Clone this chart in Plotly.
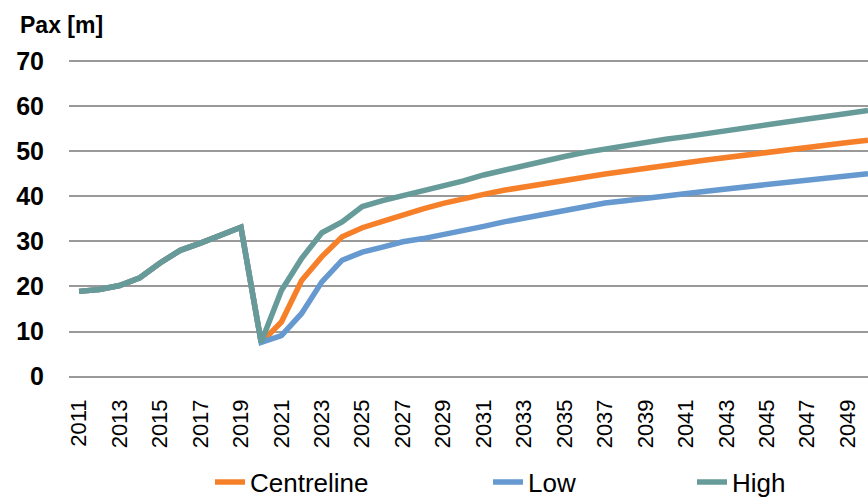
import plotly.graph_objects as go

years = [str(y) for y in range(2011, 2051)]
tick_years = [str(y) for y in range(2011, 2051, 2)]

centreline = [18.9, 19.3, 20.2, 21.9, 25.2, 28.0, 29.6, 31.5, 33.1, 7.6,
              12.1, 21.3, 26.6, 31.0, 33.0, 34.4, 35.9, 37.2, 38.4, 39.5,
              40.4, 41.3, 42.1, 42.8, 43.5, 44.2, 44.9, 45.6, 46.2, 46.8,
              47.4, 48.0, 48.6, 49.2, 49.8, 50.3, 50.9, 51.4, 51.9, 52.4]
low = [18.9, 19.3, 20.2, 21.9, 25.2, 28.0, 29.6, 31.5, 33.1, 7.6,
       9.1, 14.0, 21.0, 25.8, 27.6, 28.7, 29.9, 30.6, 31.4, 32.4,
       33.3, 34.3, 35.2, 36.1, 37.0, 37.8, 38.5, 39.0, 39.6, 40.1,
       40.6, 41.1, 41.6, 42.1, 42.6, 43.1, 43.6, 44.1, 44.5, 45.0]
high = [18.9, 19.3, 20.2, 21.9, 25.2, 28.0, 29.6, 31.5, 33.1, 7.6,
        19.1, 26.2, 31.9, 34.3, 37.7, 39.0, 40.1, 41.1, 42.1, 43.4,
        44.7, 45.8, 46.9, 47.9, 48.8, 49.7, 50.5, 51.2, 51.9, 52.6,
        53.2, 53.9, 54.6, 55.2, 55.9, 56.5, 57.1, 57.7, 58.3, 59.0]

FONT = "Liberation Sans, Arial, sans-serif"

fig = go.Figure()
fig.add_trace(go.Scatter(x=years, y=centreline, name="Centreline", mode="lines",
                         line=dict(color="#F6802A", width=5.5), legend="legend"))
fig.add_trace(go.Scatter(x=years, y=low, name="Low", mode="lines",
                         line=dict(color="#6699CF", width=5.5), legend="legend2"))
fig.add_trace(go.Scatter(x=years, y=high, name="High", mode="lines",
                         line=dict(color="#669B99", width=5.5), legend="legend3"))

LEG_Y = 1 - 482 / 497
leg_common = dict(orientation="h", yanchor="middle", xanchor="left",
                  xref="container", yref="container",
                  font=dict(family=FONT, size=26, color="#000"),
                  bgcolor="rgba(0,0,0,0)", itemwidth=30)

fig.update_layout(
    width=868, height=497,
    showlegend=True,
    margin=dict(l=69, r=0, t=59, b=119, autoexpand=False),
    paper_bgcolor="white", plot_bgcolor="white",
    font=dict(family=FONT, color="#000"),
    xaxis=dict(type="category", range=[-0.5, 39], tickmode="array",
               tickvals=tick_years, ticktext=tick_years, tickangle=-90,
               tickfont=dict(family=FONT, size=22, color="#000"),
               showgrid=False, showline=False, ticks="", ticklabelstandoff=16,
               zeroline=False, automargin=False),
    yaxis=dict(range=[-0.3, 70.4], tickmode="array",
               tickvals=[0, 10, 20, 30, 40, 50, 60, 70], showgrid=True,
               gridcolor="#999999", gridwidth=2, zeroline=False,
               tickfont=dict(family=FONT, size=25, color="#000", weight="bold"),
               ticklabelstandoff=24, showline=False, ticks="", automargin=False),
    legend=dict(x=210 / 868, y=LEG_Y, **leg_common),
    legend2=dict(x=488 / 868, y=LEG_Y, **leg_common),
    legend3=dict(x=692 / 868, y=LEG_Y, **leg_common),
    annotations=[dict(text="<b>Pax [m]</b>", xref="paper", yref="paper",
                      x=(18 - 69) / 799, y=(378 - 25) / 319,
                      xanchor="left", yanchor="middle", showarrow=False,
                      font=dict(family=FONT, size=23, color="#000"))],
)

fig.write_html("out.html", config={"displayModeBar": False},
               post_script="document.body.style.margin='0';")
